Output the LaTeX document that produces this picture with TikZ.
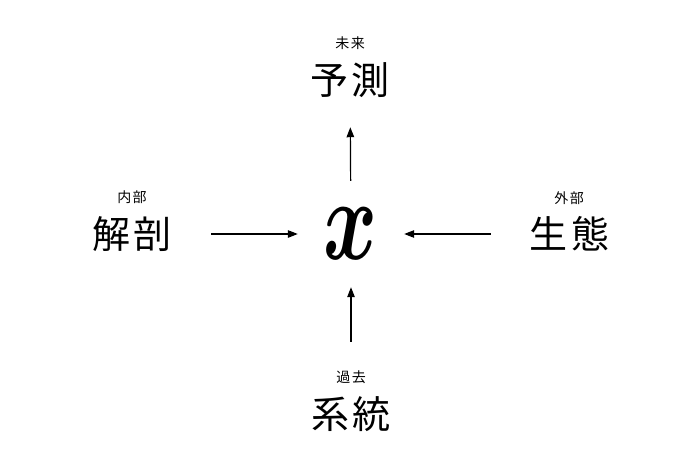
\documentclass[tikz,border=0pt]{standalone}
\usepackage{amsmath}
\usepackage{fontspec}
\usepackage{xcolor}
\usetikzlibrary{arrows.meta}
\newfontfamily\cjk{Noto Sans CJK JP}

\tikzset{
  word/.style={inner sep=0pt, font=\cjk\fontsize{38}{38}\selectfont},
  lab/.style={inner sep=0pt, font=\cjk\fontsize{14}{14}\selectfont},
  arr/.style={line width=1.2pt, -{Triangle[length=10pt,width=7.5pt]}}
}

\begin{document}
\begin{tikzpicture}[x=1pt,y=1pt]
\useasboundingbox (0,0) rectangle (700,467);

% Define the centre x and the four words round it
\node[circle, inner sep=0pt, minimum size=106pt] (x) at (351,233) {\scalebox{8.2}[11.6]{$\boldsymbol{x}$}};
\node[word, label={[lab,label distance=12pt]above:未\hspace{1.5pt}来}] (yosoku) at (350,387) {予\hspace{4pt}測};
\node[word, label={[lab,label distance=12pt]above:内\hspace{1.5pt}部}] (kaibo) at (132,233) {解\hspace{4pt}剖};
\node[word, label={[lab,label distance=12pt]above:外\hspace{1.5pt}部}] (seitai) at (569,233) {生\hspace{4pt}態};
\node[word, label={[lab,label distance=12pt]above:過\hspace{1.5pt}去}] (keito) at (351,53) {系\hspace{4pt}統};

% Draw the arrows
\draw[arr, shorten >=29.5pt] (x) -- (yosoku);
\draw[arr, shorten <=39pt] (kaibo) -- (x);
\draw[arr, shorten <=38pt] (seitai) -- (x);
\draw[arr, shorten <=54.5pt] (keito) -- (x);

\end{tikzpicture}
\end{document}
